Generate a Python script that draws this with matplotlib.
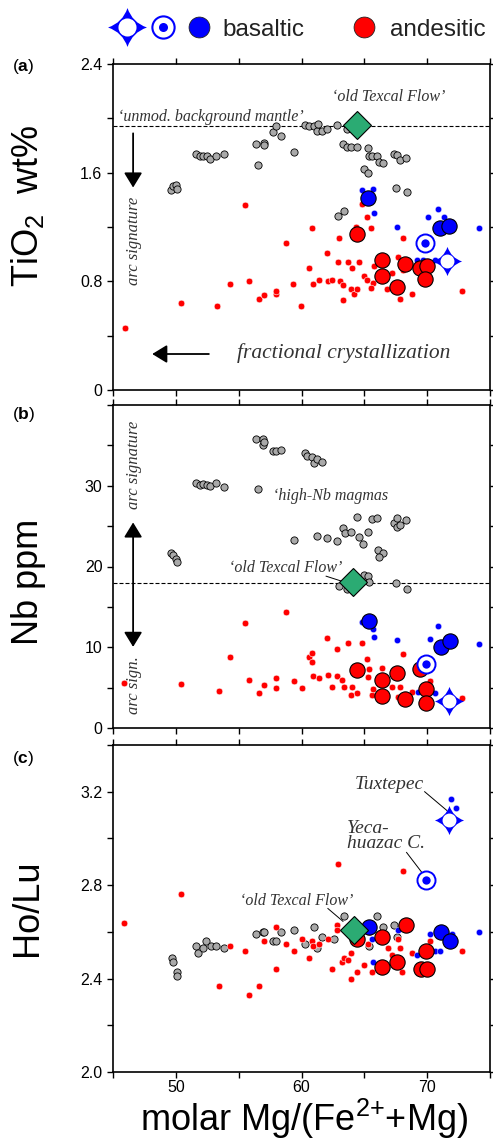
#!/usr/bin/env python3
# -*- coding: utf-8 -*-

import numpy as np
import matplotlib
matplotlib.use('Agg')
import matplotlib.pyplot as plt
from matplotlib.path import Path
from matplotlib.lines import Line2D
from matplotlib.legend_handler import HandlerTuple

plt.rcParams['font.family'] = ['Liberation Sans', 'DejaVu Sans']
plt.rcParams['mathtext.fontset'] = 'custom'
plt.rcParams['mathtext.rm'] = 'Liberation Sans'
plt.rcParams['mathtext.bf'] = 'Liberation Sans:bold'

# ---- (a) TiO2 wt% ----
ti_gray_mg = [49.6, 49.8, 50.0, 50.1, 51.6, 51.9, 52.2, 52.5, 52.7, 53.2, 53.8, 56.4, 57.0, 57.0, 56.5,
              57.7, 58.0, 58.4, 59.4, 60.3, 60.6, 61.0, 61.2, 61.3, 61.6, 62.0, 62.8, 63.6, 63.3, 63.6,
              63.9, 64.4, 65.3, 65.4, 65.6, 66.0, 66.2, 66.5, 65.0, 65.3, 67.4, 67.6, 67.8, 68.3, 67.5,
              68.4, 62.9, 63.4]
ti_gray = [1.47, 1.50, 1.51, 1.48, 1.74, 1.72, 1.72, 1.72, 1.70, 1.72, 1.74, 1.81, 1.82, 1.80, 1.66,
           1.90, 1.94, 1.87, 1.75, 1.95, 1.94, 1.94, 1.91, 1.96, 1.91, 1.92, 1.95, 1.92, 1.81, 1.79,
           1.79, 1.79, 1.78, 1.72, 1.72, 1.72, 1.68, 1.67, 1.63, 1.60, 1.74, 1.73, 1.69, 1.71, 1.49,
           1.46, 1.28, 1.32]
ti_red_mg = [45.96, 50.4, 53.3, 54.3, 55.8, 56.6, 57.0, 57.96, 58.0, 59.3, 59.96, 55.5, 58.8, 60.8,
             63.0, 64.8, 65.2, 65.5, 64.3, 68.1, 62.0, 62.9, 63.7, 64.0, 64.6, 60.6, 60.9, 61.4, 62.1,
             62.4, 63.1, 63.3, 63.96, 64.2, 64.4, 63.3, 65.0, 65.2, 65.7, 65.8, 65.5, 67.2, 67.7, 68.1,
             66.8, 67.8, 68.8, 72.8]
ti_red = [0.46, 0.64, 0.62, 0.78, 0.80, 0.67, 0.70, 0.71, 0.73, 0.78, 0.62, 1.36, 1.08, 1.19, 1.12,
          1.37, 1.27, 1.19, 1.20, 1.12, 1.01, 0.94, 0.94, 0.90, 0.94, 0.90, 0.78, 0.81, 0.80, 0.81,
          0.80, 0.77, 0.74, 0.71, 0.74, 0.66, 0.84, 0.81, 0.79, 0.91, 0.75, 0.86, 0.98, 0.88, 0.74,
          0.67, 0.71, 0.73]
ti_redbig_mg = [64.4, 66.4, 68.2, 69.4, 70.0, 66.4, 67.6, 69.8]
ti_redbig = [1.15, 0.96, 0.93, 0.90, 0.91, 0.84, 0.76, 0.82]
ti_blue_mg = [64.8, 65.7, 65.8, 67.6, 70.1, 70.9, 71.3, 72.0, 74.1, 69.2, 69.7, 70.6]
ti_blue = [1.47, 1.48, 1.30, 1.20, 1.27, 1.33, 1.27, 1.24, 1.19, 0.96, 0.96, 0.96]
ti_bluebig_mg = [65.3, 71.0, 71.7]
ti_bluebig = [1.41, 1.19, 1.21]
ti_mantle = 1.94

# ---- (b) Nb ppm ----
nb_gray_mg = [56.4, 56.9, 56.9, 57.0, 57.7, 58.0, 58.4, 60.3, 60.4, 60.8, 61.0, 61.2, 61.6, 51.6, 51.9,
              52.2, 52.5, 52.7, 53.2, 53.8, 56.5, 49.6, 49.8, 50.0, 50.1, 59.4, 61.2, 62.0, 62.8, 63.3,
              63.5, 63.9, 64.4, 64.6, 64.9, 65.3, 65.6, 66.0, 67.4, 67.6, 67.6, 67.8, 68.3, 66.1, 66.5,
              66.2, 63.0, 63.6, 65.0, 65.3, 65.4, 67.5, 68.4]
nb_gray = [35.8, 35.8, 35.1, 35.4, 34.3, 34.3, 34.4, 34.1, 33.7, 33.5, 32.8, 33.3, 33.0, 30.4, 30.1,
           30.2, 30.1, 30.0, 30.4, 29.9, 29.6, 21.7, 21.4, 20.9, 20.6, 23.3, 23.8, 23.5, 23.2, 24.8,
           24.2, 24.3, 26.1, 23.7, 22.8, 24.3, 25.9, 26.0, 25.4, 26.0, 24.9, 25.2, 25.7, 22.1, 21.7,
           21.2, 17.6, 17.2, 19.0, 18.8, 18.1, 18.0, 17.2]
nb_red_mg = [45.9, 50.4, 53.4, 54.3, 55.5, 55.8, 56.6, 57.0, 58.0, 58.0, 58.8, 59.4, 60.0, 60.6, 60.8,
             60.8, 60.9, 61.4, 62.0, 62.1, 62.4, 62.8, 62.8, 63.2, 63.4, 63.7, 64.0, 63.9, 64.4, 64.8,
             65.2, 65.3, 65.4, 65.6, 65.7, 66.4, 67.2, 67.8, 68.1, 67.7, 68.8, 70.2, 72.8]
nb_red = [5.6, 5.5, 4.6, 8.8, 13.0, 5.9, 4.3, 5.3, 6.2, 5.0, 14.4, 5.8, 5.0, 8.8, 8.2,
          9.3, 6.4, 6.2, 11.2, 6.6, 5.1, 9.8, 6.4, 5.9, 5.1, 10.5, 5.1, 4.1, 4.3, 10.5,
          8.5, 6.3, 7.3, 4.1, 4.8, 7.4, 5.1, 5.1, 9.2, 3.8, 4.5, 5.8, 3.7]
nb_redbig_mg = [64.4, 66.4, 66.4, 67.6, 68.2, 69.4, 69.9, 69.9]
nb_redbig = [7.2, 5.9, 4.0, 6.8, 3.6, 7.3, 4.8, 3.1]
nb_blue_mg = [64.8, 65.7, 65.8, 67.6, 70.2, 70.9, 74.1, 70.6, 69.3]
nb_blue = [13.1, 12.3, 11.3, 10.9, 11.0, 12.6, 10.4, 4.3, 4.5]
nb_bluebig_mg = [65.4, 71.1, 71.8]
nb_bluebig = [13.3, 10.0, 10.8]
nb_mantle = 18.0

# ---- (c) Ho/Lu ----
holu_gray_mg = [49.7, 49.8, 50.1, 50.1, 51.6, 51.8, 52.2, 52.4, 52.8, 53.2, 53.8, 56.4, 56.9, 57.0,
                57.7, 58.0, 58.4, 59.4, 60.3, 61.0, 61.2, 61.6, 62.6, 63.4, 66.0, 66.5, 67.4, 65.4, 67.6]
holu_gray = [2.49, 2.47, 2.43, 2.41, 2.54, 2.51, 2.53, 2.56, 2.54, 2.54, 2.53, 2.59, 2.60, 2.60,
             2.56, 2.56, 2.60, 2.61, 2.55, 2.62, 2.53, 2.58, 2.57, 2.67, 2.67, 2.62, 2.63, 2.54, 2.58]
holu_red_mg = [45.9, 50.4, 62.9, 68.1, 53.4, 54.3, 55.5, 55.8, 56.6, 57.0, 58.0, 58.0, 58.8, 59.4,
               60.0, 60.6, 60.8, 60.9, 61.4, 62.1, 62.4, 62.8, 62.8, 63.2, 63.4, 63.7, 63.9, 63.9,
               64.4, 65.0, 65.3, 65.4, 65.4, 66.9, 67.2, 67.8, 68.0, 67.7, 68.8, 70.2, 72.8, 65.6]
holu_red = [2.64, 2.76, 2.89, 2.86, 2.37, 2.54, 2.52, 2.33, 2.37, 2.56, 2.62, 2.44, 2.55, 2.52,
            2.57, 2.49, 2.56, 2.54, 2.55, 2.57, 2.44, 2.63, 2.61, 2.47, 2.49, 2.48, 2.51, 2.40,
            2.43, 2.46, 2.55, 2.64, 2.60, 2.53, 2.50, 2.53, 2.43, 2.57, 2.51, 2.56, 2.52, 2.43]
holu_redbig_mg = [64.4, 66.4, 68.3, 66.4, 67.6, 69.5, 70.0, 69.9]
holu_redbig = [2.57, 2.58, 2.63, 2.45, 2.47, 2.44, 2.44, 2.52]
holu_blue_mg = [74.1, 70.2, 72.0, 65.7, 69.2, 70.6, 71.0, 67.7, 65.6, 71.9, 72.3]
holu_blue = [2.60, 2.59, 2.59, 2.47, 2.50, 2.52, 2.52, 2.61, 2.57, 3.17, 3.13]
holu_bluebig_mg = [65.4, 71.1, 71.8]
holu_bluebig = [2.62, 2.60, 2.56]

# single localities, one value per panel (a, b, c)
texcal_mg = [64.4, 64.1, 64.2]
texcal_val = [1.95, 18.1, 2.61]
tux_mg = [71.6, 71.7, 71.7]
tux_val = [0.95, 3.3, 3.08]
yeca_mg = [69.8, 69.9, 69.9]
yeca_val = [1.08, 7.9, 2.82]

BLUE = '#0000ff'
RED = '#ff0000'
GRAY = '#a9a9a9'
GREEN = '#2bab73'
NOTE = '#333333'

# four-pointed star with concave sides
c = 0.25
star_path = Path(
    [(0, 1), (c, c), (1, 0), (c, -c), (0, -1), (-c, -c), (-1, 0), (-c, c), (0, 1), (0, 1)],
    [Path.MOVETO, Path.CURVE3, Path.CURVE3, Path.CURVE3, Path.CURVE3,
     Path.CURVE3, Path.CURVE3, Path.CURVE3, Path.CURVE3, Path.CLOSEPOLY])


def draw_panel(ax, i, gray, red, redbig, blue, bluebig):
    ax.plot(*gray, 'o', ms=5.2, mfc=GRAY, mec='black', mew=0.6, zorder=2)
    ax.plot(*red, 'o', ms=4.8, mfc=RED, mec='white', mew=0.4, zorder=3)
    ax.plot(*blue, 'o', ms=4.6, mfc=BLUE, mec='white', mew=0.3, zorder=3)
    ax.plot(*redbig, 'o', ms=11, mfc=RED, mec='black', mew=0.8, zorder=4)
    ax.plot(*bluebig, 'o', ms=11, mfc=BLUE, mec='black', mew=0.8, zorder=4)
    ax.plot(texcal_mg[i], texcal_val[i], 'D', ms=14, mfc=GREEN, mec='black', mew=0.8, zorder=5)
    ax.plot(tux_mg[i], tux_val[i], marker=star_path, ms=21, mfc=BLUE, mew=0, ls='none', zorder=5)
    ax.plot(tux_mg[i], tux_val[i], 'o', ms=10, mfc='white', mew=0, zorder=6)
    ax.plot(yeca_mg[i], yeca_val[i], 'o', ms=13, mfc='white', mec=BLUE, mew=1.4, zorder=5)
    ax.plot(yeca_mg[i], yeca_val[i], 'o', ms=6, mfc=BLUE, mew=0, zorder=6)


def style_axes(ax, ylim, ystep, ylabels, show_x):
    ax.set_xlim(45, 75)
    ax.set_ylim(*ylim)
    ax.set_xticks(np.arange(45, 76, 5))
    ax.set_xticklabels(['', '50', '', '60', '', '70', ''] if show_x else [])
    yt = np.arange(ylim[0], ylim[1] + ystep / 2, ystep)
    ax.set_yticks(yt)
    ax.set_yticklabels(ylabels)
    ax.tick_params(which='both', direction='out', top=True, right=True, length=4.6, width=1.0,
                   labelsize=11.5, pad=1, labelbottom=show_x)
    ax.tick_params(axis='y', pad=3)
    for sp in ax.spines.values():
        sp.set_linewidth(1.2)


fig = plt.figure(figsize=(4.93, 11.39), dpi=100)
W, H = 493.0, 1139.0


def add_panel(top, bottom):
    return fig.add_axes([113 / W, 1 - bottom / H, 377 / W, (bottom - top) / H])


ax_a = add_panel(64, 390)
ax_b = add_panel(405, 728)
ax_c = add_panel(745, 1072)

serif = dict(family='Liberation Serif', style='italic', color=NOTE)

# (a) TiO2
draw_panel(ax_a, 0, (ti_gray_mg, ti_gray), (ti_red_mg, ti_red), (ti_redbig_mg, ti_redbig),
           (ti_blue_mg, ti_blue), (ti_bluebig_mg, ti_bluebig))
ax_a.axhline(ti_mantle, color='black', lw=0.8, ls=(0, (3.6, 1.8)), zorder=1)
style_axes(ax_a, (0, 2.4), 0.4, ['0', '', '0.8', '', '1.6', '', '2.4'], False)
ax_a.text(45.4, 2.01, "\u2018unmod. background mantle\u2019", fontsize=11.5, va='center', **serif)
ax_a.text(66.9, 2.16, "\u2018old Texcal Flow\u2019", fontsize=11.5, ha='center', va='center', **serif)
ax_a.text(46.7, 1.10, "arc signature", fontsize=12, rotation=90, ha='center', va='center', **serif)
ax_a.text(54.9, 0.27, "fractional crystallization", fontsize=15.5, va='center', **serif)
ax_a.annotate('', xy=(46.6, 1.47), xytext=(46.6, 1.91),
              arrowprops=dict(arrowstyle='-|>,head_length=0.9,head_width=0.55', color='black', lw=1.3))
ax_a.annotate('', xy=(47.9, 0.265), xytext=(52.85, 0.265),
              arrowprops=dict(arrowstyle='-|>,head_length=0.9,head_width=0.55', color='black', lw=1.3))

# (b) Nb
draw_panel(ax_b, 1, (nb_gray_mg, nb_gray), (nb_red_mg, nb_red), (nb_redbig_mg, nb_redbig),
           (nb_blue_mg, nb_blue), (nb_bluebig_mg, nb_bluebig))
ax_b.axhline(nb_mantle, color='black', lw=0.8, ls=(0, (3.6, 1.8)), zorder=1)
style_axes(ax_b, (0, 40), 5, ['0', '', '10', '', '20', '', '30', '', ''], False)
ax_b.text(46.7, 32.6, "arc signature", fontsize=12, rotation=90, ha='center', va='center', **serif)
ax_b.text(46.7, 5.3, "arc sign.", fontsize=12, rotation=90, ha='center', va='center', **serif)
ax_b.text(57.7, 28.7, "\u2018high-Nb magmas", fontsize=11.5, va='center', **serif)
ax_b.text(54.2, 19.8, "\u2018old Texcal Flow\u2019", fontsize=11.5, va='center', **serif)
ax_b.plot([61.96, 63.16], [18.8, 18.2], color='black', lw=0.7, zorder=4)
ax_b.annotate('', xy=(46.6, 25.8), xytext=(46.6, 9.7),
              arrowprops=dict(arrowstyle='<|-|>,head_length=0.9,head_width=0.55', color='black', lw=1.3))

# (c) Ho/Lu
draw_panel(ax_c, 2, (holu_gray_mg, holu_gray), (holu_red_mg, holu_red), (holu_redbig_mg, holu_redbig),
           (holu_blue_mg, holu_blue), (holu_bluebig_mg, holu_bluebig))
style_axes(ax_c, (2.0, 3.4), 0.2, ['2.0', '', '2.4', '', '2.8', '', '3.2', ''], True)
ax_c.text(64.2, 3.23, "Tuxtepec", fontsize=14, va='center', **serif)
ax_c.plot([69.8, 71.56], [3.20, 3.12], color='black', lw=0.7, zorder=4)
ax_c.text(63.64, 3.01, "Yeca-\nhuazac C.", fontsize=14, va='center', linespacing=0.85, **serif)
ax_c.plot([68.36, 69.64], [2.94, 2.85], color='black', lw=0.7, zorder=4)
ax_c.text(55.1, 2.73, "\u2018old Texcal Flow\u2019", fontsize=11.5, va='center', **serif)
ax_c.plot([62.1, 63.3], [2.70, 2.645], color='black', lw=0.7, zorder=4)

# axis titles and panel letters
fig.text(28 / W, 1 - 206 / H, 'TiO$_2$  wt%', fontsize=26, rotation=90, ha='center', va='center')
fig.text(28 / W, 1 - 582 / H, 'Nb ppm', fontsize=26, rotation=90, ha='center', va='center')
fig.text(28 / W, 1 - 908 / H, 'Ho/Lu', fontsize=26, rotation=90, ha='center', va='center')
fig.text(304 / W, 1 - 1119 / H, 'molar Mg/(Fe$^{2{+}}$+Mg)', fontsize=26, ha='center', va='center')
for letter, y in [('a', 67), ('b', 415), ('c', 758)]:
    fig.text(12 / W, 1 - y / H, '($\\mathbf{%s}$)' % letter, fontsize=12.5, va='center')

# legend
star_h = Line2D([], [], marker=star_path, ms=28, mfc=BLUE, mew=0, ls='none')
star_hole = Line2D([], [], marker='o', ms=13, mfc='white', mew=0, ls='none')
ring_h = Line2D([], [], marker='o', ms=16, mfc='white', mec=BLUE, mew=1.5, ls='none')
ring_dot = Line2D([], [], marker='o', ms=6.5, mfc=BLUE, mew=0, ls='none')
blue_h = Line2D([], [], marker='o', ms=15, mfc=BLUE, mec='#222222', mew=0.6, ls='none')
red_h = Line2D([], [], marker='o', ms=15, mfc=RED, mec='#222222', mew=0.6, ls='none')

fig.legend([([star_h, star_hole], [ring_h, ring_dot], blue_h)], ['basaltic'],
           handler_map={tuple: HandlerTuple(ndivide=None, pad=0.25), list: HandlerTuple(ndivide=1)},
           loc='center left', bbox_to_anchor=(112 / W, 1 - 30 / H), frameon=False, fontsize=17.5,
           handlelength=4.2, handletextpad=0.33, borderpad=0, borderaxespad=0, labelcolor='#222222')
fig.legend([red_h], ['andesitic'], loc='center left', bbox_to_anchor=(352 / W, 1 - 30 / H),
           frameon=False, fontsize=17.5, handlelength=1.0, handletextpad=0.58, borderpad=0,
           borderaxespad=0, labelcolor='#222222')

fig.savefig('out.png', dpi=100)
